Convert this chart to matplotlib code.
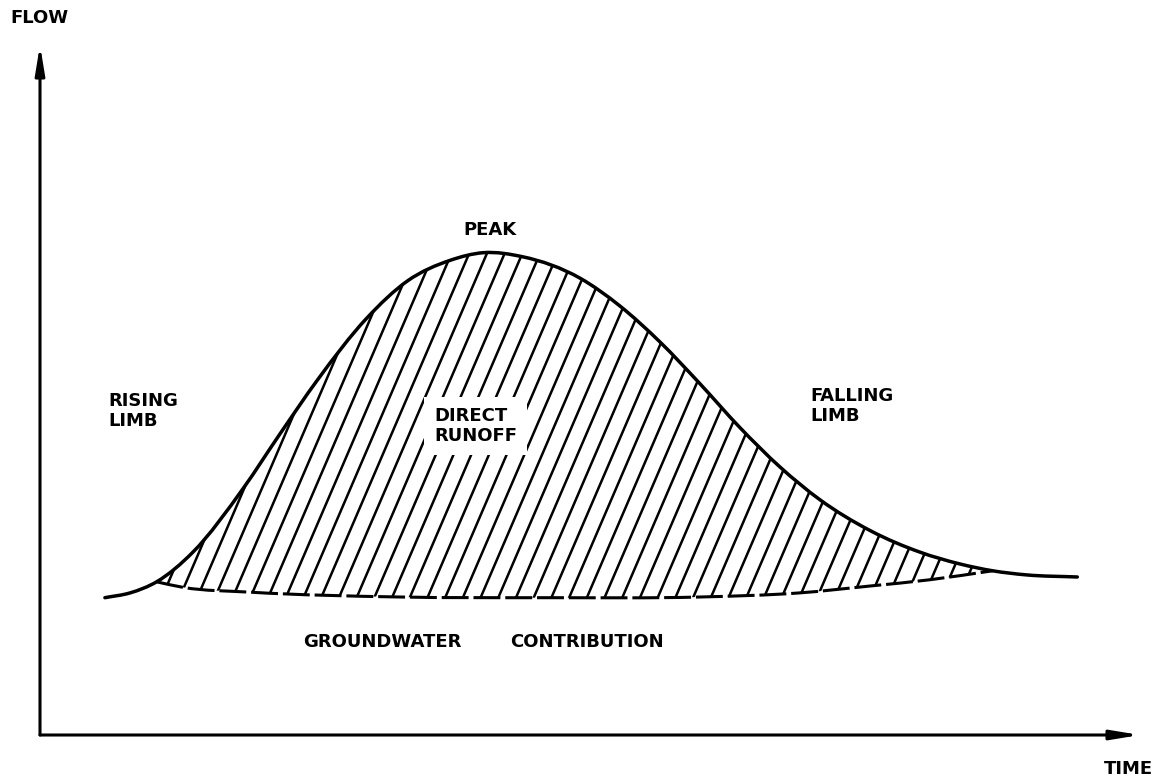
import matplotlib
matplotlib.use('Agg')
import matplotlib.pyplot as plt
from matplotlib.path import Path
from matplotlib.patches import PathPatch
import numpy as np

# Hydrograph (time 0-100, flow 0-100, arbitrary units)
time_flow = [5.9, 8.2, 10.6, 13.9, 18.5, 21.8, 25.2, 29.7, 33.4, 37.3, 40.3, 43.9, 49.1,
             52.7, 56.4, 60.0, 63.6, 67.3, 70.9, 75.5, 80.0, 83.6, 86.6, 89.7, 94.3]
flow = [19.9, 20.6, 22.2, 26.5, 35.8, 43.6, 51.4, 60.4, 65.8, 68.8, 69.9, 69.3, 66.2,
        62.2, 56.9, 50.9, 44.6, 38.8, 34.1, 29.6, 26.5, 24.8, 23.8, 23.2, 22.9]

# Groundwater (baseflow) separation line, from where it leaves the rising limb
# to where it rejoins the recession
time_base = [10.6, 13.0, 19.1, 32.7, 46.4, 60.0, 69.1, 75.5, 80.9, 86.6]
baseflow = [22.2, 21.4, 20.7, 20.0, 19.9, 20.0, 20.6, 21.6, 22.5, 23.8]


def smooth_path(xs, ys):
    # smooth curve y(x) through the read points: cubic Hermite pieces as Bezier segments
    x = np.asarray(xs, float)
    y = np.asarray(ys, float)
    m = np.gradient(y, x)
    verts = [(x[0], y[0])]
    codes = [Path.MOVETO]
    for i in range(len(x) - 1):
        h = (x[i + 1] - x[i]) / 3
        verts += [(x[i] + h, y[i] + m[i] * h),
                  (x[i + 1] - h, y[i + 1] - m[i + 1] * h),
                  (x[i + 1], y[i + 1])]
        codes += [Path.CURVE4] * 3
    return np.array(verts), codes


fig = plt.figure(figsize=(11.61, 7.80), dpi=100)
ax = fig.add_axes([40 / 1161, 45 / 780, 1100 / 1161, 690 / 780])
ax.set_xlim(0, 100)
ax.set_ylim(0, 100)
ax.axis('off')

# axes with arrow heads
arrow = dict(arrowstyle='-|>,head_length=1.7,head_width=0.28', color='black',
             lw=2.2, shrinkA=0, shrinkB=0)
ax.annotate('', xy=(0, 1), xytext=(0, 0), xycoords='axes fraction', arrowprops=arrow)
ax.annotate('', xy=(1, 0), xytext=(0, 0), xycoords='axes fraction', arrowprops=arrow)

# hydrograph
v, c = smooth_path(time_flow, flow)
ax.add_patch(PathPatch(Path(v, c), facecolor='none', edgecolor='black', lw=2.5,
                       capstyle='round', zorder=4))

# baseflow, dashed
vb, cb = smooth_path(time_base, baseflow)
ax.add_patch(PathPatch(Path(vb, cb), facecolor='none', edgecolor='black', lw=2.2,
                       linestyle=(0, (8.8, 1.6)), zorder=4))

# direct runoff region: limb between the two meeting points, back along baseflow
i0 = time_flow.index(time_base[0])
i1 = time_flow.index(time_base[-1])
vt, ct = smooth_path(time_flow[i0:i1 + 1], flow[i0:i1 + 1])
region = PathPatch(Path(np.vstack([vt, vb[::-1][1:], vt[:1]]),
                        ct + cb[1:] + [Path.CLOSEPOLY]),
                   facecolor='none', edgecolor='none')
ax.add_patch(region)

slope = 0.43 * 6.9 / 11   # time units per flow unit for the steep hatch lines
for t0 in np.arange(time_base[0] - 25, time_base[-1] + 2, 1.61):
    ln, = ax.plot([t0, t0 + slope * 60], [15, 75], color='black', lw=1.8,
                  solid_capstyle='butt')
    ln.set_clip_path(region)

txt = dict(fontsize=13, color='black', family='DejaVu Sans', fontweight='bold')
fig.text(10 / 1161, 1 - 18 / 780, 'FLOW', ha='left', va='center', **txt)
fig.text(1153 / 1161, 1 - 769 / 780, 'TIME', ha='right', va='center', **txt)
ax.text(40.9, 73.2, 'PEAK', ha='center', va='center', **txt)
ax.text(6.2, 47.0, 'RISING\nLIMB', ha='left', va='center', linespacing=1.15, **txt)
ax.text(70.0, 47.7, 'FALLING\nLIMB', ha='left', va='center', linespacing=1.15, **txt)
ax.text(39.6, 44.8, 'DIRECT\nRUNOFF', ha='center', va='center', multialignment='left',
        linespacing=1.15, bbox=dict(facecolor='white', edgecolor='none', pad=7),
        zorder=5, **txt)
ax.text(31.1, 13.5, 'GROUNDWATER', ha='center', va='center', **txt)
ax.text(49.7, 13.5, 'CONTRIBUTION', ha='center', va='center', **txt)

fig.savefig('out.png', dpi=100)
